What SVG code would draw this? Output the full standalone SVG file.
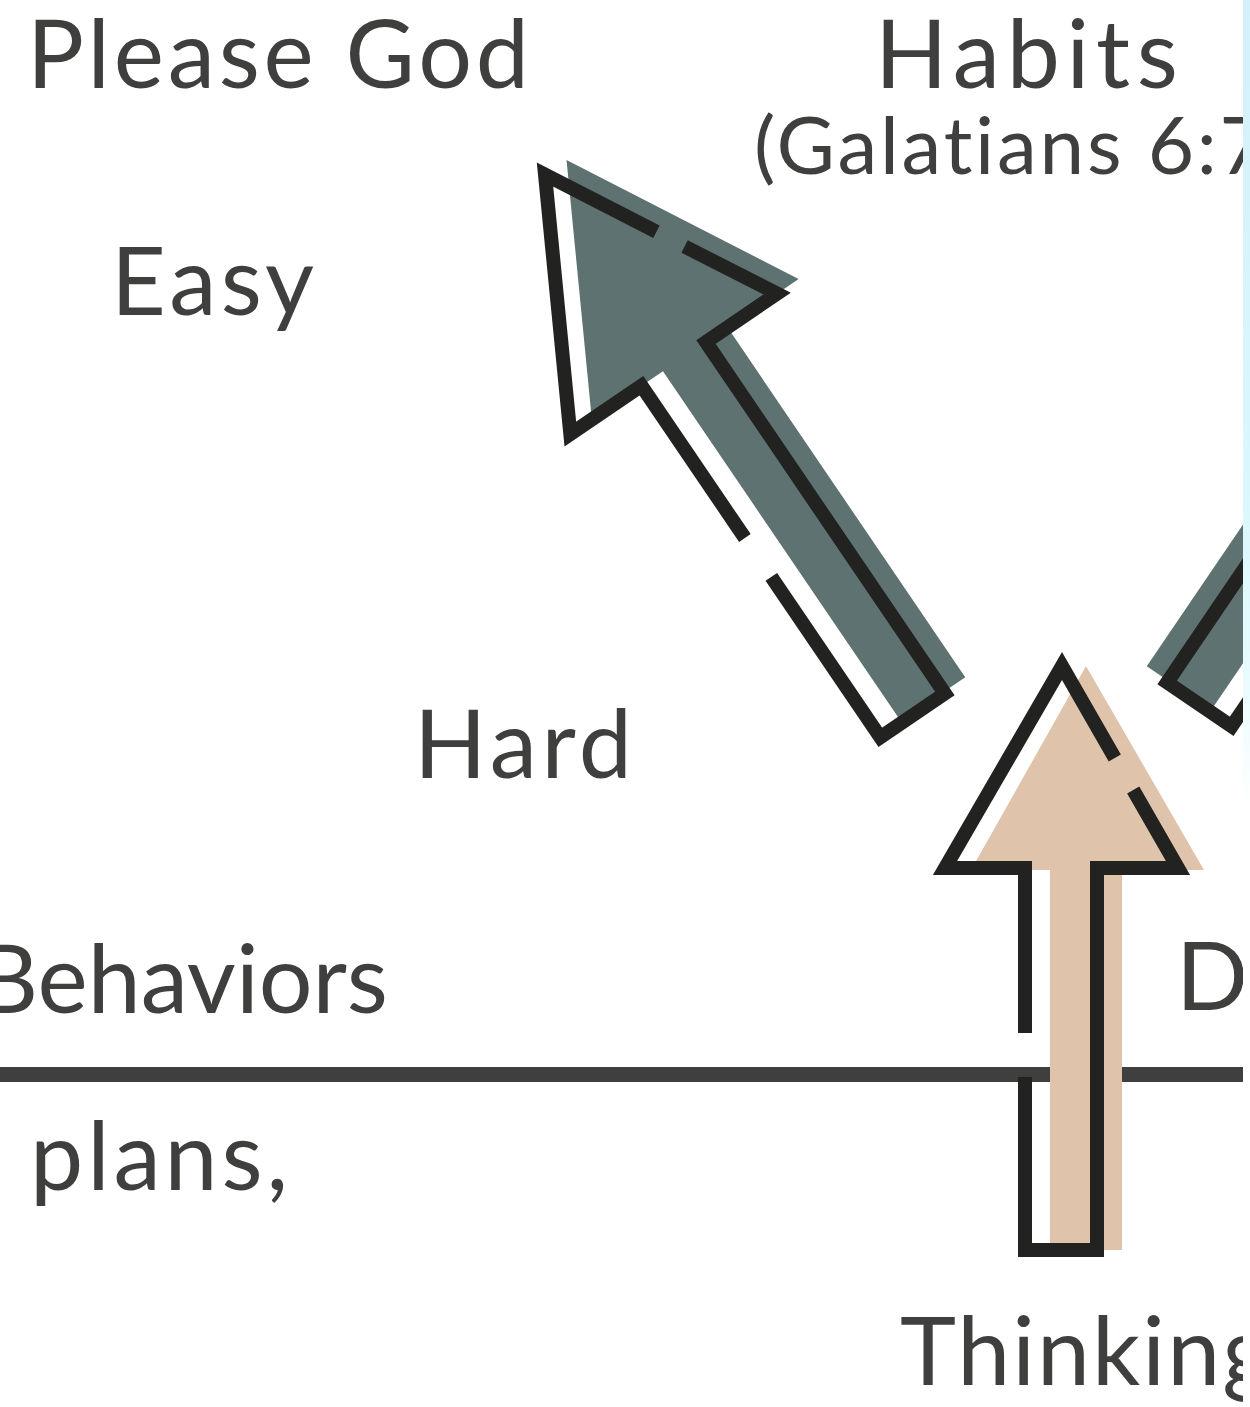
<svg xmlns="http://www.w3.org/2000/svg" width="1250" height="1407" viewBox="0 0 1250 1407">
  <defs>
    <style>
      .lbl { font-family: Lato, "Noto Sans", "Liberation Sans", sans-serif; fill: #3f3f3d; font-size: 95px; font-variant-ligatures: none; }
      .sub { font-size: 80px; }
      .out { fill: none; stroke: #222220; stroke-width: 14; stroke-linejoin: miter; stroke-miterlimit: 10; stroke-linecap: butt; }
      .grey { fill: #5e7271; }
      .tan { fill: #dfc4ab; }
    </style>
    <linearGradient id="strip" x1="0" y1="0" x2="0" y2="1">
      <stop offset="0" stop-color="#d3f1fa"/>
      <stop offset="0.6" stop-color="#d9f7fd"/>
      <stop offset="0.8" stop-color="#e4fbfe"/>
      <stop offset="1" stop-color="#ffffff"/>
    </linearGradient>
    <g id="greyArrow">
      <polygon class="grey" points="26,0 151,229 65,229 65,652 -13,652 -13,229 -99,229"/>
      <path class="out" d="M-39,413 L-39,229 L-125,229 L0,0 L60,110"/>
      <path class="out" d="M75,138 L125,229 L39,229 L39,654 L-39,654 L-39,460"/>
    </g>
  </defs>

  <rect x="0" y="0" width="1250" height="1407" fill="#ffffff"/>

  <g id="labels">
    <text id="please-god" class="lbl" x="27" y="88" textLength="502" lengthAdjust="spacing">Please God</text>
    <text id="habits" class="lbl" x="875" y="88" textLength="303" lengthAdjust="spacing">Habits</text>
    <text id="galatians" class="lbl sub" x="754" y="174" textLength="512" lengthAdjust="spacing">(Galatians 6:7</text>
    <text id="easy" class="lbl" x="111" y="315" textLength="203" lengthAdjust="spacing">Easy</text>
    <text id="hard" class="lbl" x="414" y="778" textLength="218" lengthAdjust="spacing">Hard</text>
    <text id="behaviors" class="lbl" x="388" y="1013" text-anchor="end">Behaviors</text>
    <text id="plans" class="lbl" x="30" y="1190" textLength="258" lengthAdjust="spacing">plans,</text>
    <text id="d" class="lbl" x="1176" y="1010">D</text>
    <text id="thinking" class="lbl" x="900" y="1385" letter-spacing="2">Thinking</text>
  </g>

  <g id="divider">
    <rect x="0" y="1067" width="1250" height="15" fill="#3f3f3d"/>
  </g>

  <g id="connectors">
    <g id="arrow-left" transform="translate(545,174.5) rotate(-34.2)">
      <use href="#greyArrow"/>
    </g>
    <g id="arrow-right" transform="translate(2112,-11) scale(-1,1) translate(545,174.5) rotate(-34.2)">
      <use href="#greyArrow"/>
    </g>
    <g id="arrow-up">
      <polygon class="tan" points="1086,666 1204,870 1122,870 1122,1250 1050,1250 1050,870 971,870"/>
      <path class="out" d="M1025,1033 L1025,868 L945,868 L1062,666 L1114.8,757.9"/>
      <path class="out" d="M1133.2,790 L1178,868 L1097,868 L1097,1250 L1025,1250 L1025,1077"/>
    </g>
  </g>

  <g id="edge-strip">
    <rect x="1243" y="0" width="7" height="1407" fill="#ffffff"/>
    <rect x="1243" y="0" width="7" height="810" fill="url(#strip)"/>
  </g>
</svg>
